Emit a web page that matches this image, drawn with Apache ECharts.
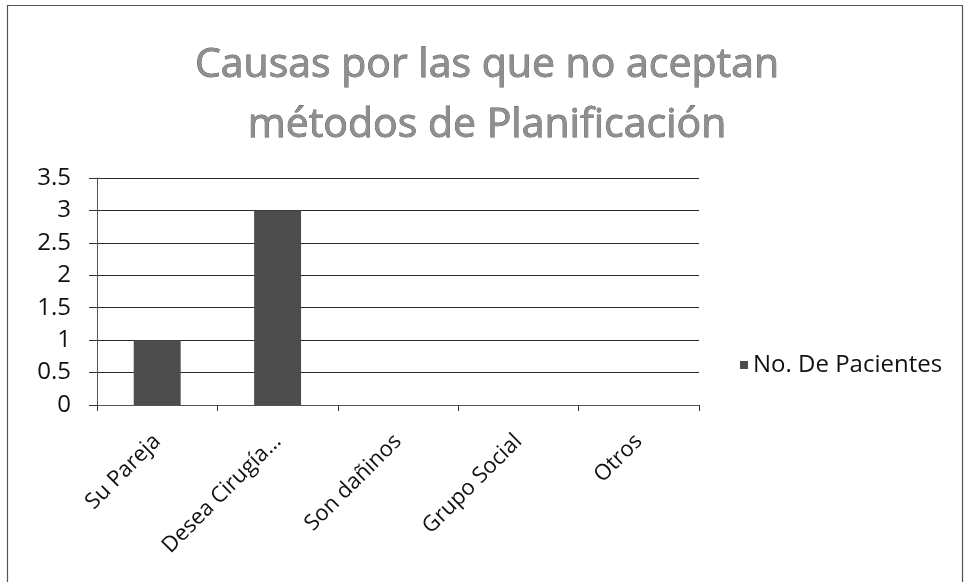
<!DOCTYPE html>
<html>
<head>
<meta charset="utf-8">
<script src="https://cdn.jsdelivr.net/npm/echarts@6/dist/echarts.min.js"></script>
<style>
html,body{margin:0;padding:0;background:#fff;}
#c{width:964px;height:582px;}
</style>
</head>
<body>
<div id="c"></div>
<script>
var titleLines = ['Causas por las que no aceptan', 'métodos de Planificación'];
var categories = ['Su Pareja', 'Desea Cirugía…', 'Son dañinos', 'Grupo Social', 'Otros'];
var seriesName = 'No. De Pacientes';
var values = [1, 3, 0, 0, 0];
var yTicks = {min: 0, max: 3.5, interval: 0.5};

var chart = echarts.init(document.getElementById('c'));
var FONT = '"Open Sans", "Liberation Sans", sans-serif';
chart.setOption({
  backgroundColor: '#ffffff',
  animation: false,
  graphic: [{
    type: 'rect',
    shape: {x: 7.5, y: 5.5, width: 955, height: 600},
    style: {fill: 'none', stroke: '#555', lineWidth: 1.2}
  }],
  title: {
    text: titleLines.join('\n'),
    top: 30,
    left: 482,
    textAlign: 'center',
    textStyle: {
      fontFamily: FONT,
      fontSize: 41,
      fontWeight: 'normal',
      color: '#8f8f8f',
      textBorderColor: '#5a5a5a',
      textBorderWidth: 0.8,
      lineHeight: 60
    }
  },
  legend: {
    orient: 'vertical',
    left: 740,
    top: 353,
    padding: 0,
    itemWidth: 8,
    itemHeight: 8,
    itemGap: 4,
    icon: 'rect',
    textStyle: {fontFamily: FONT, fontSize: 24, color: '#111'},
    data: [seriesName]
  },
  grid: {left: 97, right: 265, top: 178, bottom: 177, containLabel: false},
  xAxis: {
    type: 'category',
    data: categories,
    boundaryGap: true,
    axisLine: {lineStyle: {color: '#555', width: 1}},
    axisTick: {show: true, length: 6, lineStyle: {color: '#333'}},
    axisLabel: {
      rotate: 45,
      margin: 33,
      fontFamily: FONT,
      fontSize: 22,
      color: '#111',
      interval: 0
    }
  },
  yAxis: {
    type: 'value',
    min: yTicks.min,
    max: yTicks.max,
    interval: yTicks.interval,
    axisLine: {show: true, lineStyle: {color: '#555', width: 1}},
    axisTick: {show: true, length: 8, lineStyle: {color: '#333'}},
    splitLine: {show: true, lineStyle: {color: '#2a2a2a', width: 1}},
    axisLabel: {
      margin: 26,
      fontFamily: FONT,
      fontSize: 24,
      color: '#111'
    }
  },
  series: [{
    name: seriesName,
    type: 'bar',
    data: values,
    barWidth: '39%',
    itemStyle: {color: '#4d4d4d'}
  }]
});
</script>
</body>
</html>
